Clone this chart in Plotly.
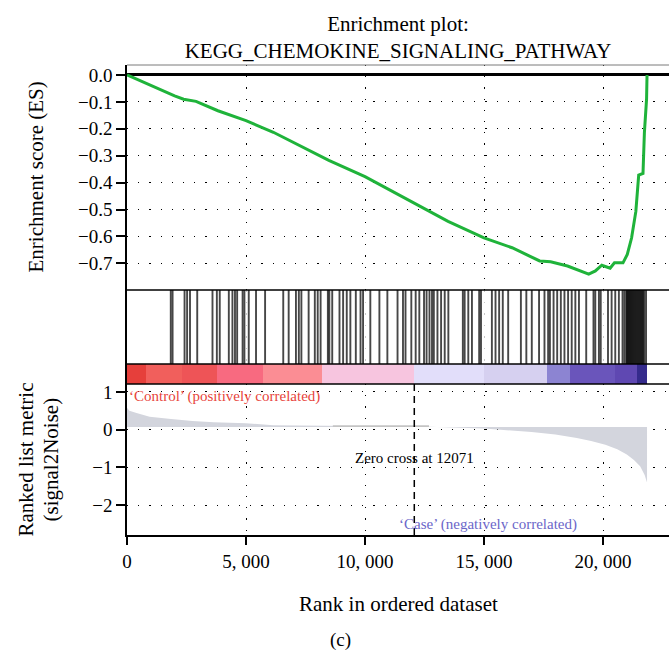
import plotly.graph_objects as go

# ---------------- data ----------------
es_rank = [0, 1000, 2000, 2380, 2650, 2900, 3820, 5000, 6150, 7220, 8480, 10000, 11700,
           13490, 15000, 16180, 17340, 17800, 18510, 19400, 19680, 19950, 20300, 20480,
           20840, 21020, 21200, 21380, 21500, 21680, 21740, 21830, 21850]
es_score = [0.0, -0.04, -0.078, -0.09, -0.094, -0.098, -0.133, -0.17, -0.213, -0.262, -0.317,
            -0.378, -0.458, -0.544, -0.605, -0.642, -0.691, -0.694, -0.71, -0.74, -0.728,
            -0.707, -0.718, -0.698, -0.698, -0.667, -0.606, -0.507, -0.372, -0.366, -0.213,
            -0.09, 0.0]

hit_ranks = [1839, 1915, 2418, 2525, 2647, 2951, 3592, 3775, 3897, 4278, 4430, 4537, 4628,
             4857, 4933, 5116, 5421, 5802, 6565, 6793, 7098, 7220, 7327, 7632, 7891, 8013,
             8135, 8440, 8501, 8623, 8928, 9080, 9233, 9385, 9614, 9812, 9919, 10224, 10605,
             10940, 11367, 11596, 11702, 11946, 12129, 12282, 12480, 12587, 12709, 12815,
             12892, 13044, 13197, 13349, 13502, 14111, 14187, 14340, 14493, 14797, 14874,
             15331, 15484, 15636, 15789, 16016, 16550, 16779, 17008, 17313, 17541, 17694,
             17770, 17923, 18075, 18228, 18380, 18533, 18685, 18838, 18990, 19295, 19600,
             19676, 19828, 19905, 20210, 20362, 20515, 20667, 20820, 20896, 20972, 21010,
             21050, 21090, 21130, 21170, 21210, 21250, 21290, 21330, 21370, 21410, 21450,
             21490, 21530, 21570, 21610, 21650, 21690, 21735, 21810]

bar_edges = [0, 800, 2300, 3780, 5710, 8190, 12071, 15000, 17650, 18610, 20500, 21430, 21850]
bar_colors = ["#e63f3b", "#f15f5c", "#ee5457", "#f86a80", "#fb8d94", "#f7c5df",
              "#e2defa", "#d6d0f0", "#8c84d2", "#6a55bb", "#5f48b2", "#352b8c"]

metric_rank = [0, 100, 400, 950, 1850, 2750, 3650, 5000, 6150, 7500, 8600, 12700, 15000,
               17000, 18000, 18900, 19500, 20100, 20600, 21000, 21300, 21560, 21750, 21850]
metric_value = [0.58, 0.5, 0.44, 0.34, 0.28, 0.23, 0.2, 0.17, 0.12, 0.11, 0.11, 0.08, 0.03,
                -0.06, -0.13, -0.22, -0.3, -0.4, -0.52, -0.66, -0.8, -0.97, -1.2, -1.4]
metric_base = 0.07
plateau_rank = [8650, 12690]
plateau_value = [0.12, 0.12]

zero_cross = 12071
x_ticks = [0, 5000, 10000, 15000, 20000]
x_ticktext = ["0", "5, 000", "10, 000", "15, 000", "20, 000"]
es_ticks = [0.0, -0.1, -0.2, -0.3, -0.4, -0.5, -0.6, -0.7]
metric_ticks = [1, 0, -1, -2]

# ---------------- figure ----------------
FONT = "Liberation Serif"
W, H = 669, 659
ML, MT, MB = 127, 65, 124
PH = H - MT - MB  # 470


def frac(ypix):
    return (H - MB - ypix) / PH


d_top = [frac(290), 1.0]
d_hit = [frac(364), frac(290)]
d_bar = [frac(384), frac(364)]
d_met = [0.0, frac(384)]
XR = [0, 22773]

fig = go.Figure()

# ES curve
fig.add_trace(go.Scatter(x=es_rank, y=es_score, mode="lines",
                         line=dict(color="#1fb33a", width=3), xaxis="x", yaxis="y",
                         showlegend=False))

# hit lines
hx, hy = [], []
for r in hit_ranks:
    hx += [r, r, None]
    hy += [0, 1, None]
fig.add_trace(go.Scatter(x=hx, y=hy, mode="lines",
                         line=dict(color="rgba(0,0,0,0.72)", width=1.9),
                         xaxis="x2", yaxis="y2", showlegend=False))

# colour bar
centers = [(a + b) / 2 for a, b in zip(bar_edges[:-1], bar_edges[1:])]
widths = [b - a for a, b in zip(bar_edges[:-1], bar_edges[1:])]
fig.add_trace(go.Bar(x=centers, y=[1] * len(centers), width=widths,
                     marker=dict(color=bar_colors, line=dict(width=0)),
                     xaxis="x3", yaxis="y3", showlegend=False))

# ranked metric
fig.add_trace(go.Scatter(x=[metric_rank[0], metric_rank[-1]], y=[metric_base, metric_base],
                         mode="lines", line=dict(width=0, color="rgba(0,0,0,0)"),
                         xaxis="x4", yaxis="y4", showlegend=False, hoverinfo="skip"))
fig.add_trace(go.Scatter(x=metric_rank, y=metric_value, mode="lines",
                         line=dict(width=0, color="#d3d5dd"), fill="tonexty",
                         fillcolor="#d3d5dd", xaxis="x4", yaxis="y4", showlegend=False))
fig.add_trace(go.Scatter(x=[plateau_rank[0], plateau_rank[-1]], y=[metric_base, metric_base],
                         mode="lines", line=dict(width=0, color="rgba(0,0,0,0)"),
                         xaxis="x4", yaxis="y4", showlegend=False, hoverinfo="skip"))
fig.add_trace(go.Scatter(x=plateau_rank, y=plateau_value, mode="lines",
                         line=dict(width=0, color="#c4c4c4"), fill="tonexty",
                         fillcolor="#c4c4c4", xaxis="x4", yaxis="y4", showlegend=False))

grid = dict(showgrid=True, gridcolor="black", gridwidth=1.2, griddash="1.2px,10px")
tickfont = dict(family=FONT, size=19, color="black")

hidden_x = dict(range=XR, showticklabels=False, ticks="", showline=False, zeroline=False,
                tickvals=x_ticks)

fig.update_layout(
    width=W, height=H,
    margin=dict(l=ML, r=0, t=MT, b=MB),
    paper_bgcolor="white", plot_bgcolor="white",
    font=dict(family=FONT, color="black"),
    bargap=0,
    title=dict(text="Enrichment plot:<br>KEGG_CHEMOKINE_SIGNALING_PATHWAY",
               x=0.5, xref="paper", xanchor="center",
               y=1 - 31 / H, yanchor="middle",
               font=dict(family=FONT, size=21, color="black")),
    xaxis=dict(domain=[0, 1], anchor="y", **hidden_x, **grid),
    yaxis=dict(domain=d_top, range=[-0.799, 0.037], tickvals=es_ticks, tickformat=".1f",
               showline=True, linecolor="black", linewidth=1.5,
               ticks="outside", ticklen=9, tickwidth=2, tickcolor="black",
               zeroline=True, zerolinecolor="black", zerolinewidth=2.5,
               tickfont=tickfont, **grid),
    xaxis2=dict(domain=[0, 1], anchor="y2", **hidden_x, showgrid=True,
                gridcolor="#c8c8c8", gridwidth=1, griddash="1.5px,10px"),
    yaxis2=dict(domain=d_hit, range=[0, 1], showticklabels=False, showgrid=False,
                zeroline=False, showline=True, linecolor="black", linewidth=1.5, ticks=""),
    xaxis3=dict(domain=[0, 1], anchor="y3", range=XR, showticklabels=False, showgrid=False,
                zeroline=False, showline=False),
    yaxis3=dict(domain=d_bar, range=[0, 1], showticklabels=False, showgrid=False,
                zeroline=False, showline=True, linecolor="black", linewidth=1.5, ticks=""),
    xaxis4=dict(domain=[0, 1], anchor="y4", range=XR, tickvals=x_ticks, ticktext=x_ticktext,
                showline=True, linecolor="black", linewidth=2,
                ticks="outside", ticklen=8, tickwidth=2, tickcolor="black",
                zeroline=False, tickfont=tickfont, **grid),
    yaxis4=dict(domain=d_met, range=[-2.79, 1.21], tickvals=metric_ticks,
                showline=True, linecolor="black", linewidth=1.5,
                ticks="outside", ticklen=9, tickwidth=2, tickcolor="black",
                zeroline=False, tickfont=tickfont, **grid),
)

shapes = [
    # thin top border
    dict(type="line", xref="paper", yref="paper", x0=0, x1=1, y0=1, y1=1,
         line=dict(color="#7a7a7a", width=1)),
    # panel separators
    dict(type="line", xref="paper", yref="paper", x0=0, x1=1, y0=d_top[0], y1=d_top[0],
         line=dict(color="black", width=1.5)),
    dict(type="line", xref="paper", yref="paper", x0=0, x1=1, y0=d_hit[0], y1=d_hit[0],
         line=dict(color="black", width=1.5)),
    dict(type="line", xref="paper", yref="paper", x0=0, x1=1, y0=d_bar[0], y1=d_bar[0],
         line=dict(color="black", width=1.5)),
    # zero cross dashed line
    dict(type="line", xref="x4", yref="y4 domain", x0=zero_cross, x1=zero_cross, y0=0, y1=1,
         line=dict(color="black", width=1.5, dash="7px,5px")),
]
fig.update_layout(shapes=shapes)

ann = [
    dict(text=f"Zero cross at {zero_cross}", x=zero_cross, y=-0.75, xref="x4", yref="y4",
         showarrow=False, font=dict(family=FONT, size=15, color="black"),
         bgcolor="rgba(255,255,255,0)"),
    dict(text="‘Control’ (positively correlated)", x=0, y=0.88, xref="x4", yref="y4",
         xanchor="left", yanchor="middle", showarrow=False,
         font=dict(family=FONT, size=15, color="#e8453c")),
    dict(text="‘Case’ (negatively correlated)", x=15170, y=-2.5, xref="x4", yref="y4",
         xanchor="center", yanchor="middle", showarrow=False,
         font=dict(family=FONT, size=15, color="#6b66c9")),
    dict(text="Enrichment score (ES)", xref="paper", yref="paper", x=0, y=(d_top[0] + d_top[1]) / 2,
         xshift=-(ML - 36), xanchor="center", yanchor="middle", textangle=-90,
         showarrow=False, font=dict(family=FONT, size=21, color="black")),
    dict(text="Ranked list metric", xref="paper", yref="paper", x=0, y=d_met[1] / 2,
         xshift=-(ML - 25), xanchor="center", yanchor="middle", textangle=-90,
         showarrow=False, font=dict(family=FONT, size=21, color="black")),
    dict(text="(signal2Noise)", xref="paper", yref="paper", x=0, y=d_met[1] / 2,
         xshift=-(ML - 50), xanchor="center", yanchor="middle", textangle=-90,
         showarrow=False, font=dict(family=FONT, size=21, color="black")),
    dict(text="Rank in ordered dataset", xref="paper", yref="paper", x=0.5, y=0,
         yshift=-69, xanchor="center", yanchor="middle", showarrow=False,
         font=dict(family=FONT, size=21, color="black")),
    dict(text="(c)", xref="paper", yref="paper", x=(340 - ML) / (W - ML), y=0,
         yshift=-105, xanchor="center", yanchor="middle", showarrow=False,
         font=dict(family=FONT, size=19, color="black")),
]
fig.update_layout(annotations=ann)

fig.write_html("out.html")
